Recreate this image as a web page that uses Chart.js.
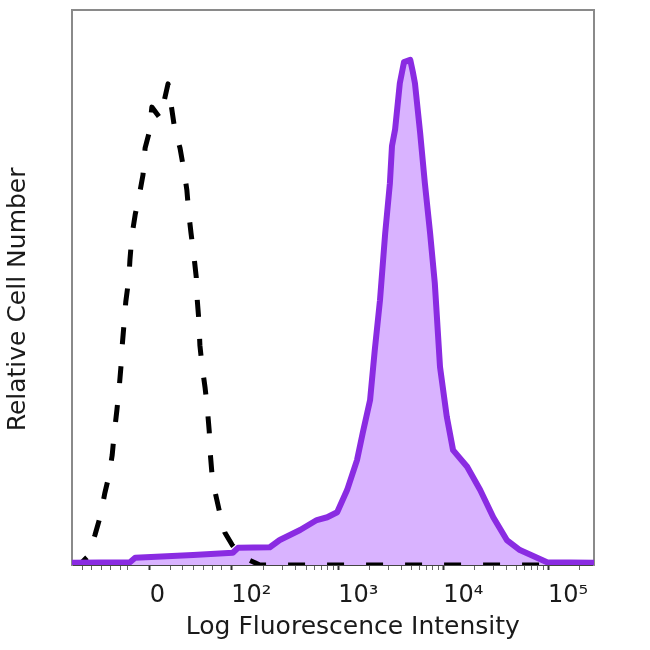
<!DOCTYPE html>
<html>
<head>
<meta charset="utf-8">
<title>Relative Cell Number vs Log Fluorescence Intensity</title>
<script src="https://cdn.jsdelivr.net/npm/chart.js@4.4.1/dist/chart.umd.min.js"></script>
<style>
  html, body { margin: 0; padding: 0; background: #fff; }
  #wrap { width: 650px; height: 650px; }
</style>
</head>
<body>
<div id="wrap"><canvas id="histo" width="650" height="650"></canvas></div>
<script>
// x is the display channel (0-1000 across the plot), y is relative count (0-100)
const stainedX = [0, 111, 121, 232, 308, 318, 379, 398, 437, 469, 489, 508, 527, 546, 557, 571, 580, 590, 600, 609, 613, 619, 628, 636, 648, 653, 657, 667, 676, 686, 695, 705, 718, 730, 757, 782, 807, 833, 858, 891, 910, 1000];
const stainedY = [0.4, 0.5, 1.3, 1.8, 2.2, 3.1, 3.2, 4.5, 6.3, 8.1, 8.6, 9.5, 13.5, 18.9, 23.8, 29.7, 38.7, 47.7, 59.8, 68.8, 75.5, 78.5, 86.8, 90.6, 91.0, 88.8, 86.8, 77.8, 68.8, 59.8, 50.8, 35.7, 26.7, 20.7, 17.7, 13.5, 8.6, 4.5, 2.7, 1.3, 0.5, 0.4];

const controlX = [0, 19, 29, 44, 54, 63, 71, 77, 81, 86, 90, 94, 96, 100, 103, 109, 111, 115, 121, 130, 136, 140, 148, 153, 169, 184, 190, 197, 207, 215, 220, 224, 228, 234, 238, 240, 243, 245, 249, 255, 259, 263, 264, 268, 274, 284, 293, 307, 320, 339, 360, 1000];
const controlY = [0.2, 0.5, 1.4, 5.4, 8.7, 13.0, 16.2, 19.8, 23.8, 27.9, 31.5, 36.0, 39.3, 43.8, 47.4, 51.7, 55.0, 59.5, 63.1, 67.2, 70.3, 75.1, 78.0, 82.5, 80.5, 86.7, 82.9, 78.4, 75.1, 70.8, 67.6, 63.1, 59.8, 55.3, 51.9, 47.7, 44.1, 39.6, 36.0, 31.9, 28.5, 24.0, 21.1, 16.6, 13.2, 9.0, 5.8, 3.6, 2.2, 0.9, 0, 0];

// where 0, 10^2 ... 10^5 sit on the channel axis
const decadeChannels = [149, 305, 510, 711, 912];
const decadeLabels = ['0', '10²', '10³', '10⁴', '10⁵'];
// small ticks in the linear part around zero
const linearMinorChannels = [21, 38, 57, 73, 92, 107, 188, 211, 232, 251, 270, 287];

const toPoints = (xs, ys) => xs.map((x, i) => ({ x: x, y: ys[i] }));

// minor ticks 2..9 inside each decade
const minorChannels = linearMinorChannels.slice();
for (let i = 1; i < decadeChannels.length; i++) {
  const start = decadeChannels[i];
  const next = i + 1 < decadeChannels.length ? decadeChannels[i + 1] : start + (start - decadeChannels[i - 1]);
  for (let k = 2; k <= 9; k++) {
    const c = start + Math.log10(k) * (next - start);
    if (c <= 1000) minorChannels.push(c);
  }
}

const fontFamily = "'DejaVu Sans', Verdana, sans-serif";
const tickFont = { family: fontFamily, size: 24 };
const titleFont = { family: fontFamily, size: 25 };
const textColor = '#1a1a1a';
const frameColor = '#8a8a8a';
const isMajor = (v) => decadeChannels.indexOf(v) !== -1;

new Chart(document.getElementById('histo'), {
  type: 'line',
  data: {
    datasets: [
      {
        label: 'Stained',
        data: toPoints(stainedX, stainedY),
        borderColor: '#8a2be2',
        backgroundColor: '#d9b3ff',
        borderWidth: 6,
        borderJoinStyle: 'round',
        fill: 'origin',
        pointRadius: 0,
        tension: 0
      },
      {
        label: 'Control',
        data: toPoints(controlX, controlY),
        borderColor: '#000',
        borderWidth: 5,
        borderDash: [17, 22],
        borderJoinStyle: 'round',
        fill: false,
        pointRadius: 0,
        tension: 0,
        clip: 0
      }
    ]
  },
  options: {
    responsive: false,
    animation: false,
    layout: { padding: 0 },
    plugins: {
      legend: { display: false },
      tooltip: { enabled: false },
      // lavender fill first, then both lines, purple outline on top
      filler: { drawTime: 'beforeDatasetsDraw' }
    },
    scales: {
      x: {
        type: 'linear',
        position: 'bottom',
        min: 0,
        max: 1000,
        afterBuildTicks: (scale) => {
          scale.ticks = decadeChannels.concat(minorChannels)
            .sort((a, b) => a - b)
            .map((v) => ({ value: v }));
        },
        afterFit: (scale) => { scale.height = 85; },
        ticks: {
          autoSkip: false,
          maxRotation: 0,
          align: 'start',
          padding: 11,
          color: textColor,
          font: tickFont,
          callback: (value) => {
            const i = decadeChannels.indexOf(value);
            return i === -1 ? '' : decadeLabels[i];
          }
        },
        grid: {
          drawOnChartArea: false,
          drawTicks: true,
          tickLength: 5,
          tickColor: (ctx) => (ctx.tick && isMajor(ctx.tick.value) ? '#333' : '#666'),
          tickWidth: (ctx) => (ctx.tick && isMajor(ctx.tick.value) ? 2 : 1)
        },
        border: { color: '#444', width: 2 },
        title: {
          display: true,
          text: '     Log Fluorescence Intensity',
          color: textColor,
          font: titleFont,
          padding: { top: 0, bottom: 8 }
        }
      },
      y: {
        position: 'left',
        min: 0,
        max: 100,
        afterFit: (scale) => { scale.width = 72; },
        ticks: { display: false },
        grid: { display: false },
        border: { color: frameColor, width: 2 },
        title: {
          display: true,
          text: 'Relative Cell Number   ',
          color: textColor,
          font: titleFont,
          padding: { top: 3, bottom: 0 }
        }
      },
      xTop: {
        type: 'linear',
        position: 'top',
        min: 0,
        max: 1000,
        afterFit: (scale) => { scale.height = 10; },
        ticks: { display: false },
        grid: { display: false },
        border: { color: frameColor, width: 2 }
      },
      yRight: {
        position: 'right',
        min: 0,
        max: 100,
        afterFit: (scale) => { scale.width = 56; },
        ticks: { display: false },
        grid: { display: false },
        border: { color: frameColor, width: 2 }
      }
    }
  }
});
</script>
</body>
</html>
